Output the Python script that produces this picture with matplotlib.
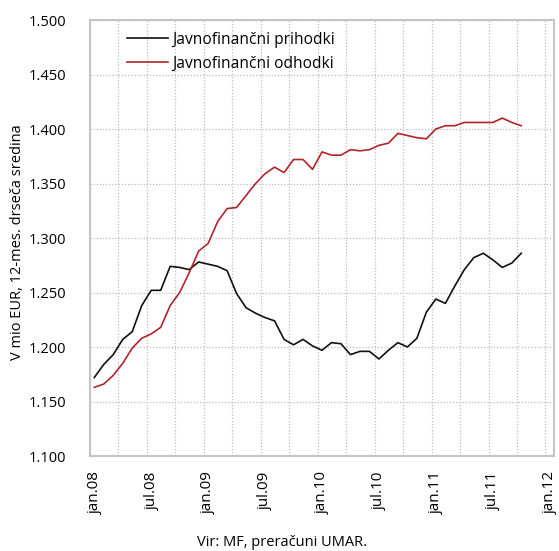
#!/usr/bin/env python3
"""Javnofinančni prihodki in odhodki, 12-mesečna drseča sredina."""

import matplotlib
matplotlib.use("Agg")
import matplotlib.pyplot as plt
import matplotlib.transforms as mtransforms
import numpy as np

plt.rcParams["font.family"] = ["Open Sans", "DejaVu Sans"]

# monthly values, jan.08 .. okt.11 (mio EUR)
prihodki = [
    1.172, 1.184, 1.193, 1.207, 1.214, 1.238, 1.252, 1.252, 1.274, 1.273,
    1.271, 1.278, 1.276, 1.274, 1.270, 1.249, 1.236, 1.231, 1.227, 1.224,
    1.207, 1.202, 1.207, 1.201, 1.197, 1.204, 1.203, 1.193, 1.196, 1.196,
    1.189, 1.197, 1.204, 1.200, 1.208, 1.232, 1.244, 1.240, 1.256, 1.271,
    1.282, 1.286, 1.280, 1.273, 1.277, 1.286,
]
odhodki = [
    1.163, 1.166, 1.174, 1.185, 1.199, 1.208, 1.212, 1.218, 1.238, 1.250,
    1.268, 1.288, 1.295, 1.315, 1.327, 1.328, 1.339, 1.350, 1.359, 1.365,
    1.360, 1.372, 1.372, 1.363, 1.379, 1.376, 1.376, 1.381, 1.380, 1.381,
    1.385, 1.387, 1.396, 1.394, 1.392, 1.391, 1.400, 1.403, 1.403, 1.406,
    1.406, 1.406, 1.406, 1.410, 1.406, 1.403,
]
tick_labels = ["jan.08", "jul.08", "jan.09", "jul.09", "jan.10",
               "jul.10", "jan.11", "jul.11", "jan.12"]
y_ticks = [1.100, 1.150, 1.200, 1.250, 1.300, 1.350, 1.400, 1.450, 1.500]

months = np.arange(len(prihodki)) + 0.45

fig = plt.figure(figsize=(5.59, 5.51), dpi=100)
ax = fig.add_axes([90 / 559, 1 - 456 / 551, 464 / 559, 436 / 551])

ax.plot(months, prihodki, color="#111111", linewidth=1.2,
        label="Javnofinančni prihodki")
ax.plot(months, odhodki, color="#b0252b", linewidth=1.2,
        label="Javnofinančni odhodki")

ax.set_xlim(0, 48.9)
ax.set_ylim(1.1, 1.5)
ax.set_xticks(np.arange(0, 49, 6))
ax.set_xticks(np.arange(0, 49, 3), minor=True)
ax.set_xticklabels(tick_labels, rotation=90, fontsize=11)
ax.set_yticks(y_ticks)
ax.set_yticklabels([f"{v:.3f}" for v in y_ticks], fontsize=10.5)
ax.tick_params(axis="both", which="both", length=0)
ax.tick_params(axis="y", pad=17)
ax.tick_params(axis="x", pad=11)

offset = mtransforms.ScaledTranslation(5 / 100, 0, fig.dpi_scale_trans)
for lbl in ax.get_xticklabels():
    lbl.set_transform(lbl.get_transform() + offset)

ax.grid(True, which="both", axis="x", color="#bdbdbd", linestyle=(0, (1, 1.5)),
        linewidth=0.9)
ax.grid(True, which="major", axis="y", color="#bdbdbd", linestyle=(0, (1, 1.5)),
        linewidth=0.9)
ax.set_axisbelow(True)
for spine in ax.spines.values():
    spine.set_color("#c4c4c4")
    spine.set_linewidth(1.5)

ax.set_ylabel("V mio EUR, 12-mes. drseča sredina", fontsize=10.5)
ax.yaxis.set_label_coords(-0.141, 0.49)
ax.legend(loc="upper left", bbox_to_anchor=(0.05, 1.005), frameon=False,
          fontsize=11.2, handlelength=2.6, handletextpad=0.3,
          labelspacing=0.5)

fig.text(282 / 559, 1 - 543 / 551, "Vir: MF, preračuni UMAR.",
         ha="center", va="center", fontsize=10.5)

fig.savefig("out.png", dpi=100)
